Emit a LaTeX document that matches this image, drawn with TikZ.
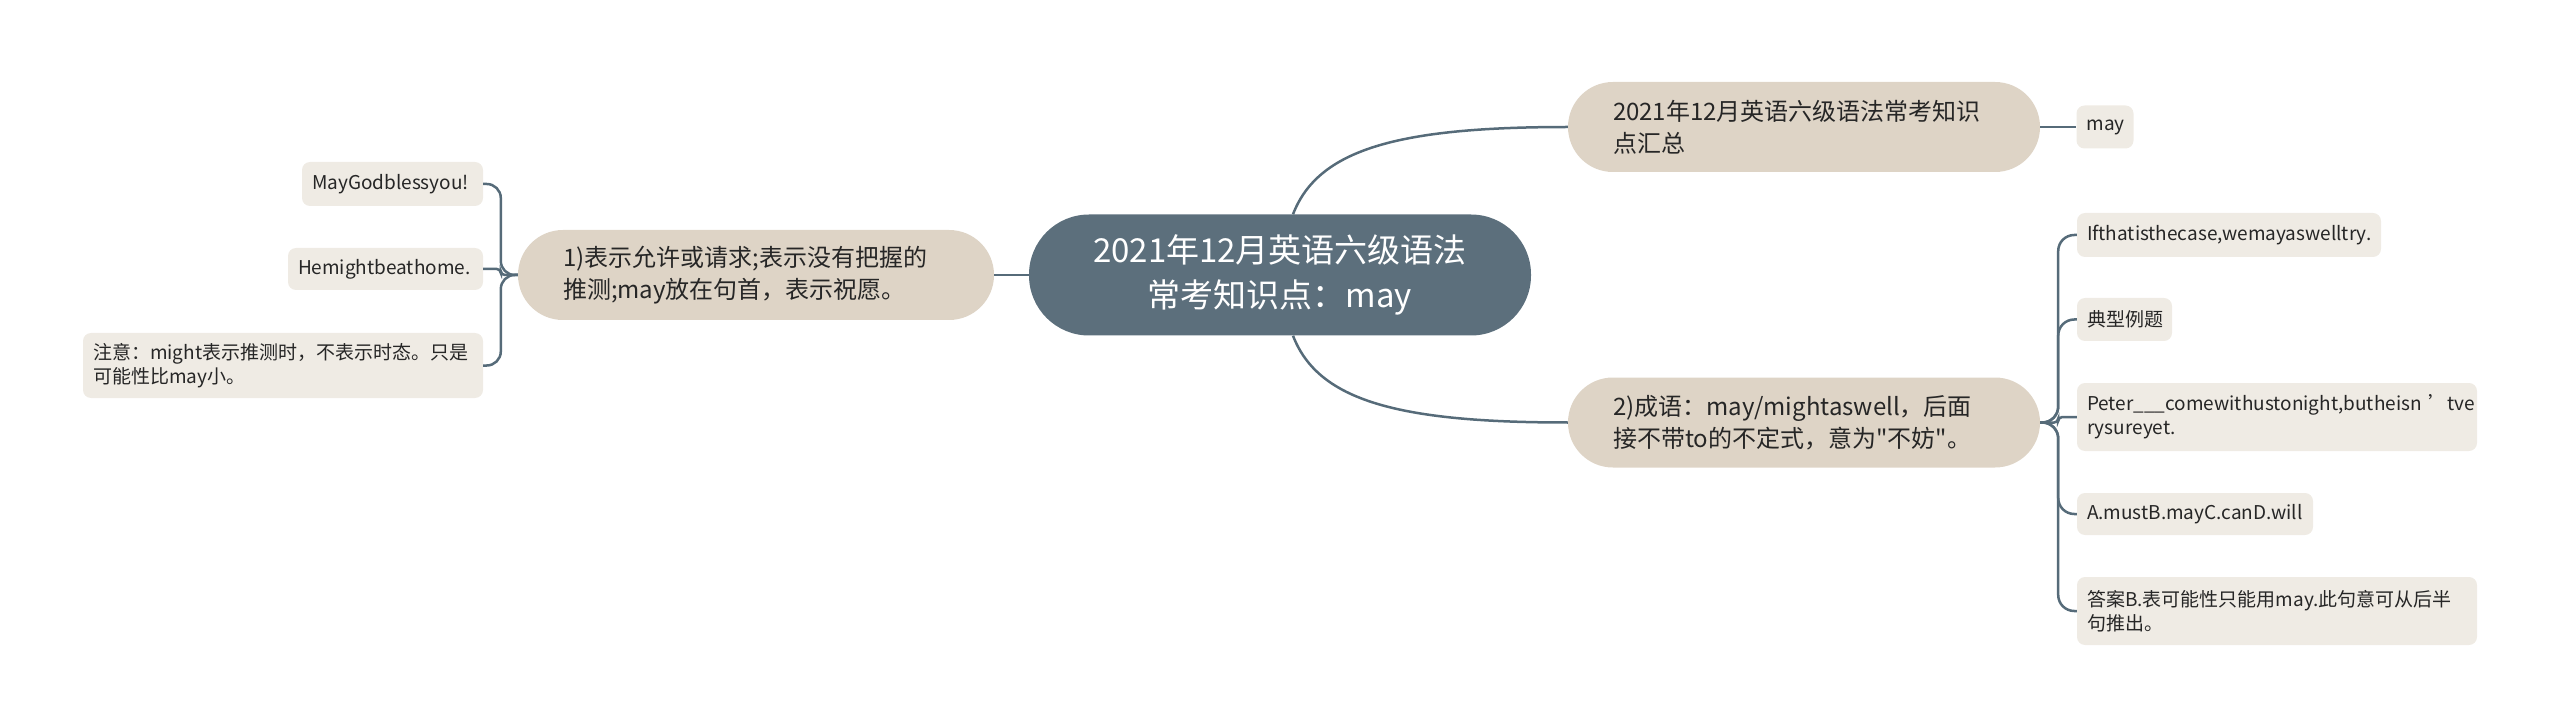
\documentclass[tikz,border=0pt]{standalone}
\usepackage{fontspec}
\setmainfont{Noto Sans CJK SC}[Ligatures=TeXOff]
\definecolor{centralc}{HTML}{5C6F7C}
\definecolor{branchc}{HTML}{DED4C6}
\definecolor{leafc}{HTML}{EFEBE4}
\definecolor{connc}{HTML}{566B79}
\definecolor{txtc}{HTML}{262626}
\begin{document}
\begin{tikzpicture}[x=1pt,y=-1pt,
  central/.style={fill=centralc, text=white, rounded corners=60pt, minimum width=502pt, minimum height=121pt, align=center, inner sep=0pt, font=\fontsize{33}{45}\selectfont},
  branch/.style={fill=branchc, text=txtc, rounded corners=44.9pt, inner xsep=45pt, inner ysep=0pt, minimum height=90pt, align=left, font=\fontsize{24}{32}\selectfont},
  leafbox/.style={fill=leafc, text=txtc, rounded corners=8pt, inner xsep=10pt, inner ysep=0pt, align=left, font=\fontsize{19}{24}\selectfont},
  link/.style={draw=connc, line width=2.5pt},
]
\useasboundingbox (0,0) rectangle (2560,727);
\node[central] (c) at (1280,275) {2021年12月英语六级语法\\常考知识点：may};
\node[branch, text width=382pt] (b1) at (1804,127) {2021年12月英语六级语法常考知识\\点汇总};
\node[branch, text width=382pt] (b2) at (1804,422.5) {2)成语：may/mightaswell，后面\\接不带to的不定式，意为"不妨"。};
\node[branch, text width=386pt] (b3) at (756,275) {1)表示允许或请求;表示没有把握的\\推测;may放在句首，表示祝愿。};
\node[leafbox, minimum height=43pt, text width=37pt, align=center] (m) at (2105,127) {may};
\node[leafbox, minimum height=44pt, text width=161pt] (l1) at (392.5,184) {MayGodblessyou!};
\node[leafbox, minimum height=42pt, text width=175pt] (l2) at (385.5,269) {Hemightbeathome.};
\node[leafbox, minimum height=65pt, text width=380pt] (l3) at (283,365.5) {注意：might表示推测时，不表示时态。只是\\可能性比may小。};
\node[leafbox, minimum height=44pt, text width=284pt] (r1) at (2229,235) {Ifthatisthecase,wemayaswelltry.};
\node[leafbox, minimum height=43pt, text width=75pt] (r2) at (2124.5,319.5) {典型例题};
\node[leafbox, minimum height=68pt, text width=380pt] (r3) at (2277,417) {\mbox{Peter\_\_\_comewithustonight,butheisn\kern0.35em’tve}\\rysureyet.};
\node[leafbox, minimum height=42pt, text width=216pt] (r4) at (2195,514) {A.mustB.mayC.canD.will};
\node[leafbox, minimum height=68pt, text width=380pt] (r5) at (2277,611) {答案B.表可能性只能用may.此句意可从后半\\句推出。};
\draw[link] ([xshift=13pt]c.north) .. controls +(25,-65) and +(-170,0) .. (b1.west);
\draw[link] ([xshift=13pt]c.south) .. controls +(25,65) and +(-170,0) .. (b2.west);
\draw[link] (c.west) -- (b3.east);
\draw[link] (b1.east) -- (m.west);
\draw[link, rounded corners=14pt] (b3.west) -- ++(-17,0) |- (l1.east);
\draw[link, rounded corners=4pt] (b3.west) -- ++(-17,0) |- (l2.east);
\draw[link, rounded corners=14pt] (b3.west) -- ++(-17,0) |- (l3.east);
\draw[link, rounded corners=16pt] (b2.east) -- ++(18,0) |- (r1.west);
\draw[link, rounded corners=16pt] (b2.east) -- ++(18,0) |- (r2.west);
\draw[link, rounded corners=4pt] (b2.east) -- ++(18,0) |- (r3.west);
\draw[link, rounded corners=16pt] (b2.east) -- ++(18,0) |- (r4.west);
\draw[link, rounded corners=16pt] (b2.east) -- ++(18,0) |- (r5.west);
\end{tikzpicture}
\end{document}
